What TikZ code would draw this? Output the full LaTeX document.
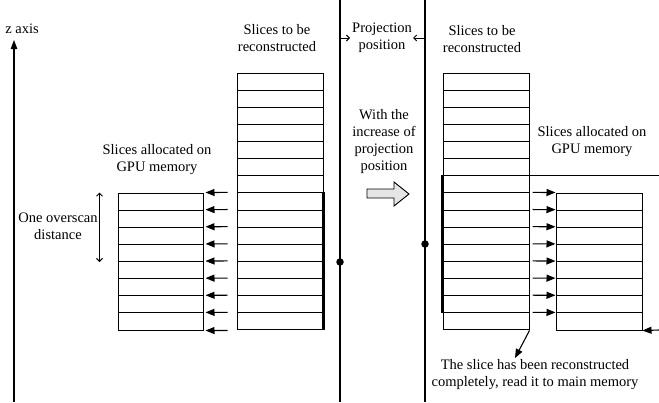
\documentclass[tikz,border=0pt]{standalone}
\usepackage{fontspec}
\setmainfont{Liberation Serif}
\usepackage{tikz}
\usetikzlibrary{arrows.meta,calc}

\begin{document}
\begin{tikzpicture}[x=1pt,y=-1pt]
    \useasboundingbox (0,0) rectangle (659,402);

    \tikzset{TX/.style={align=center,inner sep=0pt,font=\fontsize{14.5}{17}\selectfont}}
    \tikzset{SC/.style={draw=black,line width=1pt,minimum width=86pt,minimum height=17.13pt,inner sep=0pt}}
    \tikzset{TH/.style={draw=black,line width=2.4pt}}
    \tikzset{LN/.style={draw=black,line width=1.1pt}}
    \tikzset{AR/.style={draw=black,line width=1.1pt,-{Triangle[length=9pt,width=7pt]}}}
    \tikzset{SA/.style={draw=black,line width=1pt,-{Straight Barb[length=3pt,width=6pt]}}}
    \tikzset{DT/.style={circle,fill=black,inner sep=0pt,minimum size=7.5pt}}

    \node (zl) [TX] at (22,29) {z axis};
    \node (ll) [TX] at (277,38.5) {Slices to be\\reconstructed};
    \node (lgl) [TX] at (157,159.5) {Slices allocated on\\GPU memory};
    \node (ov) [TX] at (58,226.5) {One overscan\\distance};
    \node (pp) [TX] at (382,38) {Projection\\position};
    \node (rl) [TX] at (482,39) {Slices to be\\reconstructed};
    \node (wi) [TX] at (384,142) {With the\\increase of\\projection\\position};
    \node (rgl) [TX] at (592,142) {Slices allocated on\\GPU memory};
    \node (dn) [TX] at (535,375) {The slice has been reconstructed\\completely, read it to main memory};

    \coordinate (z0) at (14,402);
    \coordinate (z1) at (14,40);
    \coordinate (p1) at (340,0);
    \coordinate (p2) at (425,0);
    \coordinate (e) at (659,330);
    \coordinate (s) at (515,358);

    \foreach \i in {1,...,15} {
        \node (lr\i) [SC] at (280,{73+17.13*(\i-0.5)}) {};
        \node (rr\i) [SC] at (486,{73+17.13*(\i-0.5)}) {};
    }
    \foreach \i in {1,...,8} {
        \node (lg\i) [SC,minimum width=85pt] at (160.5,{193+17.13*(\i-0.5)}) {};
        \node (rg\i) [SC] at (599,{193+17.13*(\i-0.5)}) {};
    }

    \draw[LN,-{Triangle[length=9pt,width=6.5pt]}] (z0) -- (z1);
    \draw[LN] (p1) -- (p1 |- z0);
    \draw[LN] (p2) -- (p2 |- z0);
    \node (d1) [DT] at (340,262) {};
    \node (d2) [DT] at (425,244) {};
    \draw[SA] (p1 |- pp) -- ([xshift=10pt]p1 |- pp);
    \draw[SA] (p2 |- pp) -- ([xshift=-12pt]p2 |- pp);
    \draw[SA,{Straight Barb[length=3pt,width=6pt]}-{Straight Barb[length=3pt,width=6pt]}]
        ([xshift=-18pt]lg1.north west) -- ([xshift=-18pt]lg4.south west);

    \draw[TH] (lr8.north east) -- (lr15.south east);
    \draw[TH] (rr7.north west) -- (rr14.south west);

    \foreach \i [evaluate=\i as \j using int(\i-7)] in {8,...,15} {
        \draw[AR] ([xshift=-9pt]lr\i.north west) -- ([xshift=2pt]lg\j.north east);
        \draw[AR] ([xshift=3pt]rr\i.north east) -- (rg\j.north west);
    }
    \draw[AR] ([xshift=-9pt]lr15.south west) -- ([xshift=2pt]lg8.south east);
    \draw[AR] (e) -- (rg8.south east);
    \draw[LN] (rr7.north east) -- (rr7.north east -| e);
    \draw[AR] (rr15.south east) -- (s);

    \draw[line width=0.9pt,fill=gray!20] (367,189) -- (394,189) -- (394,182) -- (409,194)
        -- (394,206) -- (394,198) -- (367,198) -- cycle;
\end{tikzpicture}
\end{document}
